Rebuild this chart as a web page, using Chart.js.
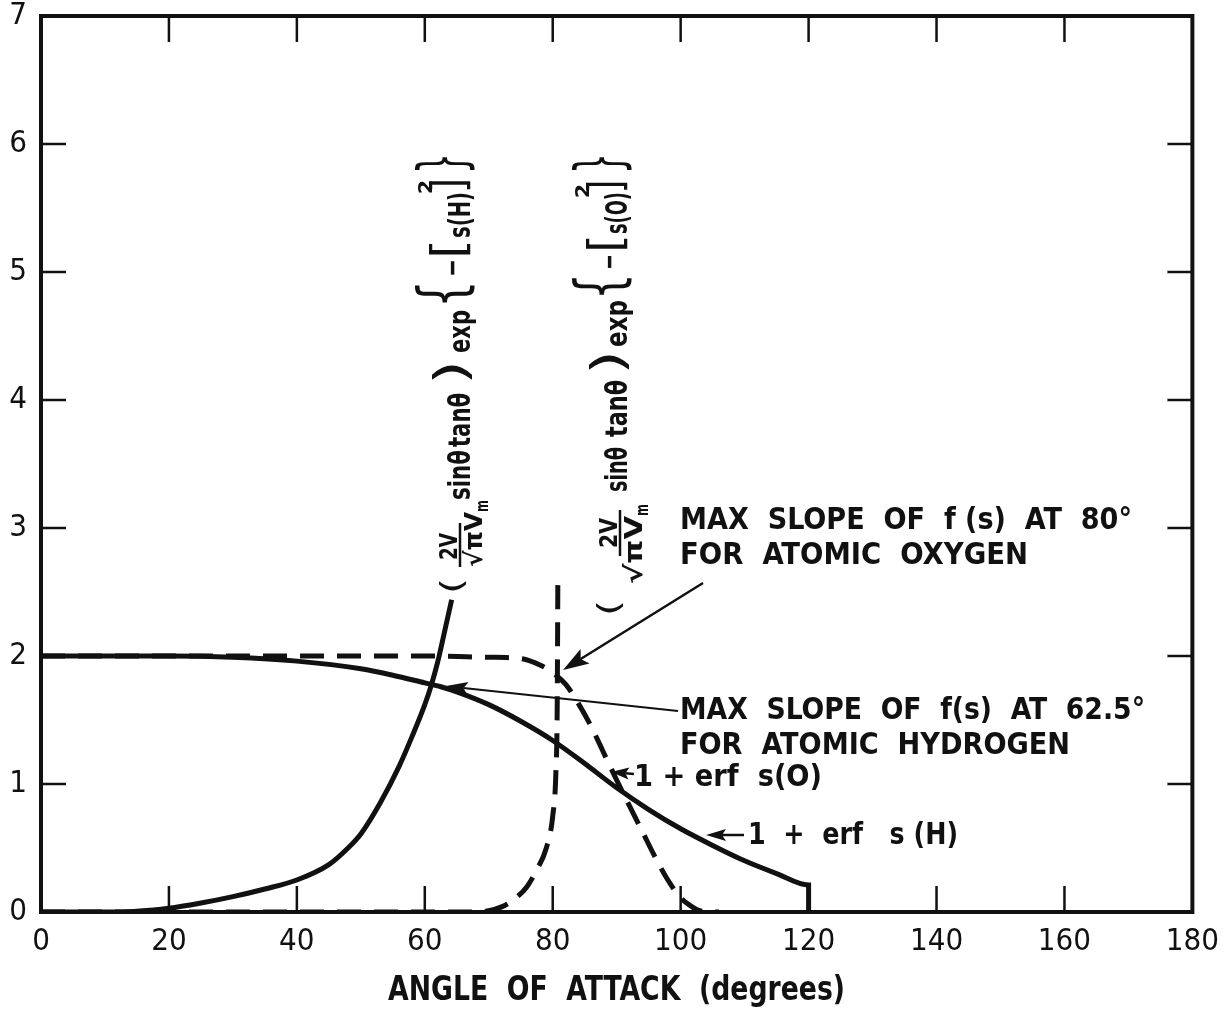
<!DOCTYPE html>
<html>
<head>
<meta charset="utf-8">
<script src="https://cdn.jsdelivr.net/npm/chart.js@4.4.1/dist/chart.umd.min.js"></script>
<style>
  html, body { margin: 0; padding: 0; background: #fff; }
  #wrap { width: 1230px; height: 1009px; }
</style>
</head>
<body>
<div id="wrap"><canvas id="chart" width="1230" height="1009"></canvas></div>
<script>
// --- datos ---
const xTicks = [0, 20, 40, 60, 80, 100, 120, 140, 160, 180];
const yTicks = [0, 1, 2, 3, 4, 5, 6, 7];

// 1 + erf s(H)  (solida, decreciente)
const erfH_deg = [0, 10, 20, 30, 40, 50, 55, 60, 62.5, 65, 70, 75, 80, 85, 90, 95, 100, 105, 110, 115, 120, 120];
const erfH_val = [2, 2, 2, 1.99, 1.96, 1.9, 1.85, 1.79, 1.76, 1.72, 1.62, 1.49, 1.34, 1.16, 0.97, 0.8, 0.65, 0.52, 0.4, 0.3, 0.21, 0];

// termino exp para H (solida, creciente)
const termH_deg = [0, 12, 20, 25, 30, 35, 40, 45, 48, 50, 53, 56, 58, 60, 61, 62, 63, 64.2];
const termH_val = [0, 0, 0.03, 0.07, 0.12, 0.18, 0.25, 0.37, 0.5, 0.61, 0.85, 1.14, 1.37, 1.62, 1.77, 1.95, 2.17, 2.44];

// 1 + erf s(O)  (discontinua, decreciente)
const erfO_deg = [0, 20, 40, 60, 70, 75, 78, 80, 82, 84, 86, 88, 90, 92, 94, 96, 98, 100, 101.5, 103, 106];
const erfO_val = [2, 2, 2, 2, 1.99, 1.98, 1.93, 1.87, 1.78, 1.63, 1.45, 1.24, 1.03, 0.83, 0.63, 0.43, 0.25, 0.11, 0.05, 0.01, 0];

// termino exp para O (discontinua, creciente)
const termO_deg = [0, 60, 68, 70, 72, 74, 76, 77.5, 79, 80, 80.5, 80.7, 80.8];
const termO_val = [0, 0, 0, 0.01, 0.04, 0.1, 0.2, 0.33, 0.5, 0.75, 1.1, 1.6, 2.58];

const FONT = '"DejaVu Sans Condensed", "Liberation Sans Narrow", "DejaVu Sans", sans-serif';
const INK = '#111';

function toPoints(xs, ys) {
    return xs.map((x, i) => ({ x: x, y: ys[i] }));
}

function serie(xs, ys, dashed) {
    return {
        data: toPoints(xs, ys),
        showLine: true,
        borderColor: INK,
        borderWidth: 5,
        borderDash: dashed ? [24, 13] : [],
        borderCapStyle: 'butt',
        pointRadius: 0,
        cubicInterpolationMode: 'monotone',
        fill: false
    };
}

// --- helpers de dibujo ---
function fitText(ctx, t, x, y, w, size, bold) {
    ctx.save();
    ctx.font = (bold ? 'bold ' : '') + size + 'px ' + FONT;
    ctx.textBaseline = 'middle';
    ctx.textAlign = 'left';
    const m = ctx.measureText(t).width;
    ctx.translate(x, y);
    ctx.scale(w / m, 1);
    ctx.fillText(t, 0, 0);
    ctx.restore();
}

// texto girado (se lee de abajo hacia arriba)
function vText(ctx, t, baseX, yBottom, yTop, size, weight) {
    ctx.save();
    ctx.font = (weight || 'bold') + ' ' + size + 'px ' + FONT;
    ctx.textBaseline = 'alphabetic';
    ctx.textAlign = 'left';
    const m = ctx.measureText(t).width;
    ctx.translate(baseX, yBottom);
    ctx.rotate(-Math.PI / 2);
    ctx.scale((yBottom - yTop) / m, 1);
    ctx.fillText(t, 0, 0);
    ctx.restore();
}

function arrow(ctx, x1, y1, x2, y2, lw, hl, hw) {
    const a = Math.atan2(y2 - y1, x2 - x1);
    ctx.save();
    ctx.lineWidth = lw;
    ctx.strokeStyle = INK;
    ctx.fillStyle = INK;
    ctx.beginPath();
    ctx.moveTo(x1, y1);
    ctx.lineTo(x2 - Math.cos(a) * hl * 0.8, y2 - Math.sin(a) * hl * 0.8);
    ctx.stroke();
    ctx.translate(x2, y2);
    ctx.rotate(a);
    ctx.beginPath();
    ctx.moveTo(0, 0);
    ctx.lineTo(-hl, -hw / 2);
    ctx.lineTo(-hl * 0.8, 0);
    ctx.lineTo(-hl, hw / 2);
    ctx.closePath();
    ctx.fill();
    ctx.restore();
}

function formula(ctx, p, species) {
    const b = p.base;
    vText(ctx, '(', b - 8, p.par[0], p.par[1], 30, 'normal');
    vText(ctx, '2V', p.num[0], p.num[1], p.num[2], 24);
    ctx.save();
    ctx.lineWidth = 2.5;
    ctx.strokeStyle = INK;
    ctx.beginPath();
    ctx.moveTo(p.bar[0], p.bar[1]);
    ctx.lineTo(p.bar[0], p.bar[2]);
    ctx.stroke();
    ctx.restore();
    vText(ctx, '\u221A\u03C0V', p.den[0], p.den[1], p.den[2], 24);
    vText(ctx, 'm', p.den[0] + 6, p.den[2], p.den[2] - 12, 18);
    vText(ctx, 'sin\u03B8', b, p.sin[0], p.sin[1], 30);
    vText(ctx, 'tan\u03B8', b, p.tan[0], p.tan[1], 30);
    vText(ctx, ')', b - 4, p.cp[0], p.cp[1], 44, 'normal');
    vText(ctx, 'exp', b, p.exp[0], p.exp[1], 30);
    vText(ctx, '{', b - 6, p.ob[0], p.ob[1], 64, 'normal');
    vText(ctx, '\u2212', b - 8, p.minus[0], p.minus[1], 30);
    vText(ctx, '[', b - 6, p.osq[0], p.osq[1], 46, 'normal');
    vText(ctx, 's(' + species + ')', b, p.s[0], p.s[1], 30);
    vText(ctx, ']', b - 6, p.csq[0], p.csq[1], 46, 'normal');
    vText(ctx, '2', b - 38, p.sup[0], p.sup[1], 20);
    vText(ctx, '}', b - 6, p.cb[0], p.cb[1], 64, 'normal');
}

const formulaH = {
    base: 470,
    par: [594, 578], num: [457, 560, 533], bar: [460, 567, 523],
    den: [482, 567, 512],
    sin: [500, 450], tan: [447, 393], cp: [385, 360], exp: [353, 310],
    ob: [308, 280], minus: [277, 259], osq: [259, 239], s: [238, 192],
    csq: [193, 178], sup: [194, 180], cb: [174, 153]
};
const formulaO = {
    base: 627,
    par: [616, 600], num: [617, 548, 518], bar: [620, 556, 510],
    den: [642, 584, 516],
    sin: [492, 447], tan: [437, 380], cp: [375, 350], exp: [347, 300],
    ob: [300, 273], minus: [270, 254], osq: [253, 234], s: [234, 192],
    csq: [193, 180], sup: [198, 184], cb: [174, 153]
};

const marco = {
    id: 'marco',
    beforeDatasetsDraw(chart) {
        const { ctx, chartArea: a, scales: { x, y } } = chart;
        ctx.save();
        ctx.strokeStyle = INK;
        ctx.lineWidth = 2.5;
        ctx.beginPath();
        xTicks.slice(1, -1).forEach(v => {
            const px = x.getPixelForValue(v);
            ctx.moveTo(px, a.bottom); ctx.lineTo(px, a.bottom - 26);
            ctx.moveTo(px, a.top); ctx.lineTo(px, a.top + 26);
        });
        yTicks.slice(1, -1).forEach(v => {
            const py = y.getPixelForValue(v);
            ctx.moveTo(a.left, py); ctx.lineTo(a.left + 25, py);
            ctx.moveTo(a.right, py); ctx.lineTo(a.right - 25, py);
        });
        ctx.stroke();
        ctx.lineWidth = 4;
        ctx.strokeRect(a.left, a.top, a.right - a.left, a.bottom - a.top);
        ctx.restore();
    },
    afterDraw(chart) {
        const ctx = chart.ctx;
        ctx.save();
        ctx.fillStyle = INK;

        fitText(ctx, 'MAX  SLOPE  OF  f (s)  AT  80\u00B0', 680, 521, 452, 30, true);
        fitText(ctx, 'FOR  ATOMIC  OXYGEN', 680, 556, 348, 30, true);
        fitText(ctx, 'MAX  SLOPE  OF  f(s)  AT  62.5\u00B0', 680, 711, 465, 30, true);
        fitText(ctx, 'FOR  ATOMIC  HYDROGEN', 680, 746, 390, 30, true);
        fitText(ctx, '1 + erf  s(O)', 634, 778, 188, 30, true);
        fitText(ctx, '1  +  erf   s (H)', 748, 836, 210, 30, true);

        fitText(ctx, 'ANGLE  OF  ATTACK  (degrees)', 388, 991, 457, 34, true);

        arrow(ctx, 703, 583, 563, 670, 2.5, 26, 17);
        arrow(ctx, 678, 711, 446, 686, 2, 22, 13);
        arrow(ctx, 634, 774, 611, 772, 2.5, 18, 12);
        arrow(ctx, 744, 835, 706, 835, 2.5, 20, 12);

        formula(ctx, formulaH, 'H');
        formula(ctx, formulaO, 'O');
        ctx.restore();
    }
};

const ctx = document.getElementById('chart').getContext('2d');
new Chart(ctx, {
    type: 'scatter',
    data: {
        datasets: [
            serie(erfH_deg, erfH_val, false),
            serie(termH_deg, termH_val, false),
            serie(erfO_deg, erfO_val, true),
            serie(termO_deg, termO_val, true)
        ]
    },
    options: {
        responsive: false,
        animation: false,
        layout: { padding: { top: 16, right: 37, left: 0, bottom: 0 } },
        plugins: { legend: { display: false }, tooltip: { enabled: false } },
        scales: {
            x: {
                type: 'linear', min: 0, max: 180,
                afterBuildTicks: s => { s.ticks = xTicks.map(v => ({ value: v })); },
                ticks: { color: INK, font: { family: FONT, size: 31 }, padding: 11, maxRotation: 0, autoSkip: false },
                grid: { display: false, drawTicks: false },
                border: { display: false },
                afterFit: s => { s.height = 97; }
            },
            y: {
                type: 'linear', min: 0, max: 7,
                afterBuildTicks: s => { s.ticks = yTicks.map(v => ({ value: v })); },
                ticks: { color: INK, font: { family: FONT, size: 31, lineHeight: 0.1 }, padding: 14, autoSkip: false },
                grid: { display: false, drawTicks: false },
                border: { display: false },
                afterFit: s => { s.width = 41; }
            }
        }
    },
    plugins: [marco]
});
</script>
</body>
</html>
